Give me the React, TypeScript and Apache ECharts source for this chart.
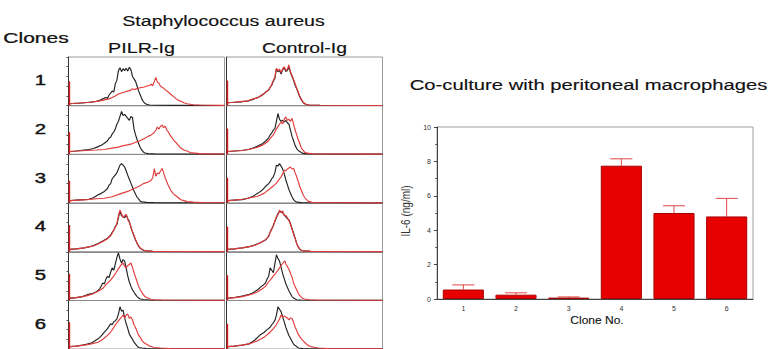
import React, { useEffect, useRef } from "react";
import * as echarts from "echarts";

// ---------- Bar chart data ----------
const cloneNumbers = ["1", "2", "3", "4", "5", "6"];
const il6Values = [0.55, 0.25, 0.08, 7.75, 5.0, 4.8];
const il6ErrorTops = [0.82, 0.36, 0.12, 8.15, 5.42, 5.85];

// ---------- Histogram data (x: % of log scale, y: % of max count) ----------
const pilrBlack: number[][][] = [
  [[1,4],[4,5],[7,5],[10,6],[13,7],[16,8],[18,9],[20,11],[22,14],[24,17],[25,15],[26,22],[28,30],[29,28],[30,45],[31,52],[32,72],[33,78],[34,70],[35,76],[36,72],[37,77],[38,71],[39,79],[40,74],[41,60],[42,55],[43,50],[44,40],[45,30],[46,22],[47,14],[48,8],[49,5],[50,3],[52,1.5],[56,1],[70,0.8],[100,0.5]],
  [[1,6],[5,7],[10,9],[13,10],[16,12],[19,16],[21,19],[23,23],[25,28],[26,33],[27,35],[28,42],[29,46],[30,52],[31,62],[32,68],[33,78],[34,88],[35,80],[36,82],[37,78],[38,74],[39,70],[40,78],[41,76],[42,52],[43,40],[44,30],[45,22],[46,14],[47,9],[48,5],[49,3],[51,1.5],[55,1],[100,0.5]],
  [[1,5],[5,6],[10,7],[13,8],[16,11],[19,17],[21,20],[23,24],[25,30],[26,37],[27,40],[28,50],[29,54],[30,58],[31,62],[32,70],[33,78],[34,81],[35,78],[36,74],[37,66],[38,57],[39,49],[40,41],[41,33],[42,25],[43,18],[44,12],[45,8],[46,4],[47,2.5],[50,1.5],[55,1],[100,0.5]],
  [[1,5],[5,6],[10,8],[13,10],[16,13],[19,17],[22,22],[25,28],[27,34],[28,40],[29,44],[30,52],[31,56],[32,70],[33,83],[34,74],[35,73],[36,70],[37,76],[38,68],[39,62],[40,50],[41,41],[42,32],[43,24],[44,17],[45,11],[46,7],[47,5],[48,3],[50,2],[54,1],[100,0.5]],
  [[1,5],[5,6],[9,8],[12,12],[15,14],[18,18],[20,24],[22,36],[23,34],[24,44],[25,50],[26,47],[27,58],[28,67],[29,62],[30,75],[31,88],[32,98],[33,85],[34,77],[35,84],[36,81],[37,66],[38,50],[39,38],[40,29],[41,22],[42,17],[43,12],[44,8],[45,5],[46,3],[48,2],[52,1],[100,0.5]],
  [[1,5],[5,6],[9,8],[12,10],[15,13],[19,21],[21,27],[23,35],[25,42],[27,52],[28,50],[29,56],[30,58],[31,62],[32,72],[33,87],[34,78],[35,80],[36,64],[37,52],[38,42],[39,31],[40,25],[41,20],[42,14],[43,10],[44,6],[45,3],[47,2],[50,1],[100,0.5]],
];
const pilrRed: number[][][] = [
  [[1,4],[5,5],[10,6],[14,7],[18,9],[20,10],[23,12],[26,14],[28,17],[30,20],[32,24],[34,26],[36,28],[38,30],[40,32],[41,35],[42,33],[44,35],[46,37],[48,38],[50,40],[52,42],[53,44],[54,41],[55,50],[56,58],[57,48],[58,46],[59,40],[60,38],[61,36],[62,33],[63,30],[64,28],[65,25],[66,22],[68,17],[69,14],[70,12],[72,9],[74,6],[76,4],[78,3],[80,2],[84,1.5],[90,1],[100,0.8]],
  [[1,6],[6,7],[12,8],[18,9],[23,10],[28,13],[32,15],[34,17],[37,19],[40,21],[43,25],[45,27],[47,30],[49,33],[51,37],[53,40],[55,45],[56,50],[57,56],[58,52],[59,58],[60,60],[61,55],[62,58],[63,50],[64,46],[65,40],[66,36],[67,31],[68,27],[69,24],[70,20],[72,13],[74,9],[76,7],[78,4],[80,3],[84,1.5],[90,1],[100,0.8]],
  [[1,5],[6,6],[12,7],[18,9],[23,10],[28,13],[34,20],[38,24],[42,30],[45,34],[48,40],[50,42],[52,45],[53,47],[54,52],[55,71],[56,55],[57,62],[58,60],[59,66],[60,71],[61,62],[62,52],[63,44],[64,36],[65,30],[66,24],[67,20],[68,17],[70,12],[72,7],[74,5],[76,3],[80,2],[86,1],[100,0.8]],
  [[1,5],[5,6],[10,8],[13,10],[16,12],[19,16],[22,21],[25,27],[27,33],[28,38],[29,45],[30,50],[31,58],[32,74],[33,86],[34,78],[35,70],[36,74],[37,77],[38,66],[39,60],[40,52],[41,42],[42,34],[43,25],[44,18],[45,12],[46,8],[47,5],[48,3.5],[50,2],[54,1],[100,0.5]],
  [[1,5],[5,6],[9,8],[12,10],[15,13],[19,19],[22,25],[25,36],[27,42],[29,50],[30,55],[31,60],[32,65],[33,70],[34,74],[35,77],[36,70],[37,67],[38,72],[39,74],[40,77],[41,68],[42,57],[43,48],[44,38],[45,29],[46,22],[47,17],[48,12],[49,8],[50,6],[51,5],[53,2.5],[55,1.5],[60,1],[100,0.5]],
  [[1,5],[5,6],[10,8],[14,10],[19,14],[22,20],[25,28],[27,35],[29,44],[30,50],[31,54],[32,58],[33,62],[34,66],[35,70],[36,64],[37,70],[38,72],[39,63],[40,66],[41,60],[42,50],[43,44],[44,36],[45,28],[46,24],[47,18],[48,14],[50,10],[52,6],[53,5],[55,3],[59,2],[65,1],[100,0.5]],
];
const ctrlBlack: number[][][] = [
  [[1,6],[5,7],[10,8],[14,10],[17,13],[20,17],[22,20],[24,24],[25,28],[27,32],[28,38],[29,42],[30,50],[31,56],[32,75],[33,70],[34,72],[35,65],[36,74],[37,78],[38,70],[39,72],[40,80],[41,68],[42,60],[43,52],[44,42],[45,35],[46,26],[47,18],[48,12],[49,7],[50,4],[51,3],[53,1.5],[60,1],[100,0.5]],
  [[1,6],[5,7],[10,8],[14,10],[17,13],[20,17],[23,22],[25,27],[27,34],[28,40],[29,44],[30,50],[31,53],[32,68],[33,84],[34,72],[35,68],[36,70],[37,66],[38,70],[39,65],[40,62],[41,50],[42,37],[43,28],[44,18],[45,12],[46,8],[47,6],[48,4],[49,2],[52,1],[100,0.5]],
  [[1,5],[5,6],[10,7],[14,10],[17,14],[20,20],[23,27],[25,34],[27,40],[28,44],[29,50],[30,54],[31,62],[32,78],[33,76],[34,81],[35,76],[36,70],[37,60],[38,48],[39,38],[40,28],[41,20],[42,13],[43,7],[44,4],[45,2],[48,1],[100,0.5]],
  [[1,5],[5,6],[10,8],[14,10],[18,14],[22,19],[25,24],[27,32],[28,41],[29,46],[30,54],[31,62],[32,70],[33,79],[34,82],[35,83],[36,80],[37,76],[38,72],[39,68],[40,66],[41,58],[42,48],[43,38],[44,28],[45,17],[46,10],[47,5],[48,3],[50,2],[54,1],[100,0.5]],
  [[1,5],[5,6],[10,9],[14,12],[17,16],[20,22],[22,28],[24,33],[25,36],[26,44],[27,50],[28,67],[29,62],[30,57],[31,75],[32,94],[33,86],[34,81],[35,68],[36,55],[37,45],[38,35],[39,27],[40,20],[41,14],[42,8],[43,5],[44,3],[45,1.5],[48,1],[100,0.5]],
  [[1,5],[5,6],[10,8],[14,10],[18,18],[22,30],[24,34],[26,40],[28,45],[29,50],[30,54],[31,59],[32,70],[33,87],[34,82],[35,77],[36,66],[37,56],[38,45],[39,36],[40,28],[41,22],[42,16],[43,10],[44,7],[45,5],[46,2],[49,1],[100,0.5]],
];
const ctrlRed: number[][][] = [
  [[1,6],[5,7],[10,9],[14,10],[17,14],[20,16],[22,21],[24,25],[25,27],[27,33],[28,37],[29,44],[30,52],[31,58],[32,77],[33,72],[34,75],[35,68],[36,76],[37,80],[38,73],[39,75],[40,84],[41,70],[42,62],[43,54],[44,45],[45,36],[46,28],[47,20],[48,13],[49,8],[50,5],[51,3],[53,1.5],[60,1],[100,0.5]],
  [[1,6],[5,7],[10,8],[14,10],[17,12],[20,15],[23,19],[25,23],[27,28],[28,33],[30,40],[31,46],[32,52],[33,57],[34,62],[35,66],[36,63],[37,72],[38,77],[39,70],[40,72],[41,68],[42,74],[43,62],[44,50],[45,40],[46,30],[47,22],[48,13],[49,9],[50,5],[51,3],[53,2],[56,1],[100,0.5]],
  [[1,5],[5,6],[10,8],[15,11],[20,14],[24,20],[28,30],[30,35],[32,41],[33,45],[34,50],[35,54],[36,60],[37,68],[38,66],[39,70],[40,72],[41,74],[42,70],[43,71],[44,62],[45,54],[46,44],[47,34],[48,26],[49,18],[50,12],[51,8],[52,5],[53,3],[55,1.5],[60,1],[100,0.5]],
  [[1,5],[5,6],[10,8],[14,10],[18,13],[22,19],[25,25],[27,31],[28,40],[29,48],[30,52],[31,64],[32,72],[33,76],[34,86],[35,80],[36,84],[37,74],[38,75],[39,70],[40,64],[41,56],[42,46],[43,36],[44,27],[45,17],[46,10],[47,6],[48,3],[50,2],[54,1],[100,0.5]],
  [[1,5],[5,6],[10,8],[14,11],[17,14],[20,18],[23,24],[25,29],[27,38],[29,46],[30,50],[32,58],[33,62],[34,67],[35,72],[36,76],[37,80],[37.6,81],[38,75],[39,70],[40,64],[41,56],[42,48],[43,36],[44,28],[45,22],[46,15],[47,10],[48,7],[49,4],[50,3],[53,1.5],[58,1],[100,0.5]],
  [[1,5],[5,6],[10,8],[15,11],[20,17],[24,24],[28,35],[30,42],[32,50],[33,56],[34,62],[35,70],[36,66],[37,68],[38,66],[39,64],[40,60],[41,64],[42,63],[43,55],[44,45],[45,38],[46,30],[48,21],[50,14],[52,8],[54,5],[57,3],[59,2],[65,1],[100,0.5]],
];
const pilrSpike = [50, 46, 46, 55, 55, 55];
const ctrlSpike = [52, 53, 52, 52, 52, 52];

const FONT = "'Liberation Sans', Arial, Helvetica, sans-serif";
const BLACK = "#222222";
const RED = "#e23b3b";

export default function App() {
  const ref = useRef<HTMLDivElement>(null);
  useEffect(() => {
    document.body.style.margin = "0";
    if (!ref.current) return;
    const chart = echarts.init(ref.current, undefined, { renderer: "svg" });

    const colLeft = [68.5, 226.5];
    const colWidth = 156;
    const rowTop = 57;
    const rowH = 48.7;

    const grids: any[] = [];
    const xAxes: any[] = [];
    const yAxes: any[] = [];
    const series: any[] = [];

    const panels = [
      { black: pilrBlack, red: pilrRed, spike: pilrSpike },
      { black: ctrlBlack, red: ctrlRed, spike: ctrlSpike },
    ];

    for (let r = 0; r < 6; r++) {
      for (let c = 0; c < 2; c++) {
        const idx = grids.length;
        grids.push({
          left: colLeft[c],
          top: rowTop + r * rowH,
          width: colWidth,
          height: rowH,
          show: true,
          borderColor: "#9a9a9a",
          borderWidth: 1,
          backgroundColor: "transparent",
        });
        xAxes.push({
          gridIndex: idx,
          type: "value",
          min: 0,
          max: 100,
          axisLine: { show: true, lineStyle: { color: "#8a8a8a", width: 1 } },
          axisTick: { show: false },
          axisLabel: { show: false },
          splitLine: { show: false },
        });
        yAxes.push({
          gridIndex: idx,
          type: "value",
          min: 0,
          max: 100,
          interval: 20,
          axisLine: { show: true, lineStyle: { color: "#333", width: 1 } },
          axisTick: { show: c === 0, length: 2, lineStyle: { color: "#555" } },
          axisLabel: { show: false },
          splitLine: { show: false },
        });
        const p = panels[c];
        series.push({
          type: "line",
          xAxisIndex: idx,
          yAxisIndex: idx,
          data: p.black[r],
          showSymbol: false,
          symbol: "none",
          lineStyle: { color: BLACK, width: 1.15 },
          silent: true,
        });
        series.push({
          type: "line",
          xAxisIndex: idx,
          yAxisIndex: idx,
          data: p.red[r],
          showSymbol: false,
          symbol: "none",
          lineStyle: { color: RED, width: 1.15 },
          silent: true,
        });
        series.push({
          type: "line",
          xAxisIndex: idx,
          yAxisIndex: idx,
          data: [[0.6, 0], [0.6, p.spike[r]]],
          showSymbol: false,
          symbol: "none",
          lineStyle: { color: "#d81e1e", width: 1.5 },
          silent: true,
        });
      }
    }

    // bar chart
    const barIdx = grids.length;
    grids.push({
      left: 437,
      top: 127,
      width: 316,
      height: 172,
      show: true,
      borderColor: "#a0a0a0",
      borderWidth: 1,
      backgroundColor: "transparent",
    });
    xAxes.push({
      gridIndex: barIdx,
      type: "category",
      data: cloneNumbers,
      axisLine: { show: true, lineStyle: { color: "#444", width: 1 } },
      axisTick: { show: false },
      axisLabel: { fontSize: 7, color: "#333", margin: 6, fontFamily: FONT },
    });
    yAxes.push({
      gridIndex: barIdx,
      type: "value",
      min: 0,
      max: 10,
      interval: 2,
      axisLine: { show: true, lineStyle: { color: "#444", width: 1 } },
      axisTick: { show: true, length: 3, lineStyle: { color: "#444" } },
      minorTick: { show: true, splitNumber: 2, length: 2, lineStyle: { color: "#666" } },
      axisLabel: { fontSize: 7, color: "#333", margin: 6, fontFamily: FONT },
      splitLine: { show: false },
    });
    series.push({
      type: "bar",
      xAxisIndex: barIdx,
      yAxisIndex: barIdx,
      data: il6Values,
      barCategoryGap: "22%",
      itemStyle: { color: "#e80000", borderColor: "#a80000", borderWidth: 1 },
      silent: true,
    });
    series.push({
      type: "custom",
      xAxisIndex: barIdx,
      yAxisIndex: barIdx,
      data: cloneNumbers.map((_, i) => [i, il6Values[i], il6ErrorTops[i]]),
      encode: { x: 0, y: [1, 2] },
      silent: true,
      renderItem: (params: any, api: any) => {
        const x = api.value(0);
        const lo = api.coord([x, api.value(1)]);
        const hi = api.coord([x, api.value(2)]);
        const hw = 11;
        const style = { stroke: "#e04848", lineWidth: 1 };
        return {
          type: "group",
          children: [
            { type: "line", shape: { x1: lo[0], y1: lo[1], x2: hi[0], y2: hi[1] }, style },
            { type: "line", shape: { x1: hi[0] - hw, y1: hi[1], x2: hi[0] + hw, y2: hi[1] }, style },
          ],
        };
      },
    });

    const txt = (text: string, x: number, y: number, fontSize: number, scaleX: number, stroke = 0.15) => ({
      type: "text",
      x,
      y,
      scaleX,
      silent: true,
      style: {
        text,
        fontSize,
        fontFamily: FONT,
        fill: "#111",
        stroke: "#111",
        lineWidth: stroke,
        align: "center",
        verticalAlign: "middle",
        textAlign: "center",
        textVerticalAlign: "middle",
      },
    });

    const graphics: any[] = [
      txt("Staphylococcus aureus", 223.5, 21, 14, 1.4),
      txt("Clones", 36, 38.5, 14, 1.5, 0.25),
      txt("PILR-Ig", 141.5, 48.5, 14, 1.41),
      txt("Control-Ig", 304.5, 48.5, 14, 1.38),
      txt("Co-culture with peritoneal macrophages", 588.5, 85, 15, 1.35),
      txt("Clone No.", 597, 320.5, 10, 1.2, 0.1),
      {
        type: "text",
        x: 405.5,
        y: 211,
        rotation: Math.PI / 2,
        scaleY: 1.2,
        silent: true,
        style: {
          text: "IL-6 (ng/ml)",
          fontSize: 10,
          fontFamily: FONT,
          fill: "#333",
          align: "center",
          verticalAlign: "middle",
          textAlign: "center",
          textVerticalAlign: "middle",
        },
      },
    ];
    cloneNumbers.forEach((n, r) => {
      graphics.push(txt(n, 40.5, rowTop + r * rowH + rowH / 2 - 1, 14, 1.45, 0.4));
    });

    chart.setOption({
      animation: false,
      backgroundColor: "#ffffff",
      grid: grids,
      xAxis: xAxes,
      yAxis: yAxes,
      series,
      graphic: graphics,
    });
    return () => chart.dispose();
  }, []);
  return <div ref={ref} style={{ width: 769, height: 349 }} />;
}
